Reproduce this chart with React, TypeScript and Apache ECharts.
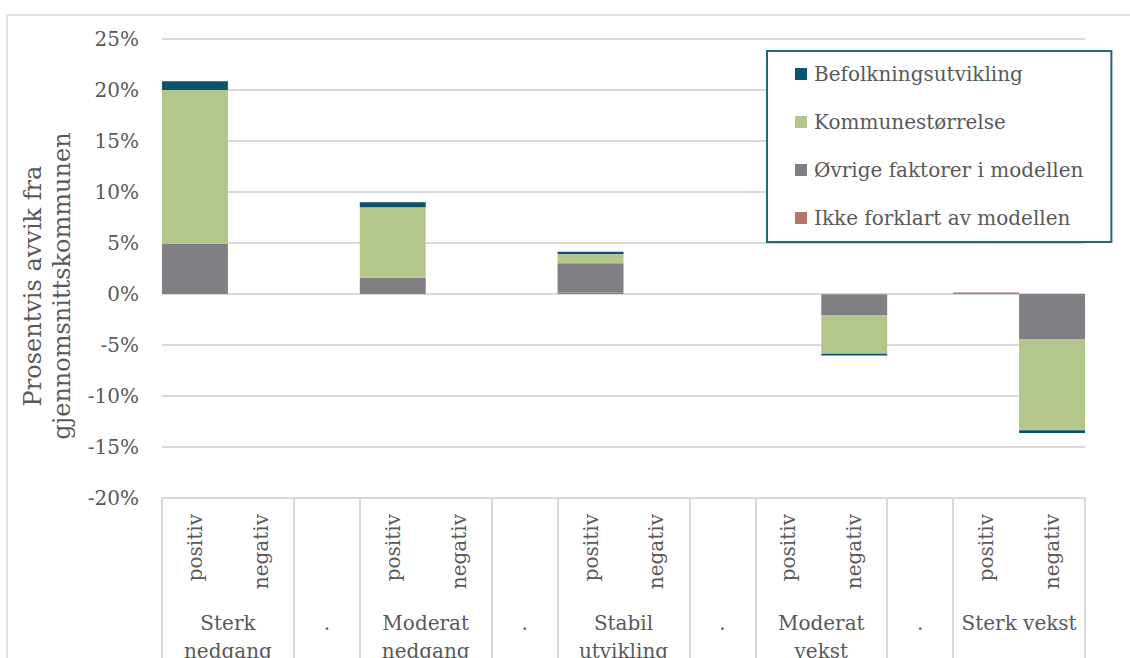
import React, { useEffect, useRef } from "react";
import * as echarts from "echarts";

// Sub-categories (one slot each)
const subLabels = [
  "positiv", "negativ", "",
  "positiv", "negativ", "",
  "positiv", "negativ", "",
  "positiv", "negativ", "",
  "positiv", "negativ",
];
// Group labels and their widths in slots
const groupLabels = ["Sterk\nnedgang", ".", "Moderat\nnedgang", ".", "Stabil\nutvikling", ".", "Moderat\nvekst", ".", "Sterk vekst"];
const groupSpans = [2, 1, 2, 1, 2, 1, 2, 1, 2];

// Series values (percent), stacked bottom-up in this order
const ikkeForklart = [0, null, null, 0, null, null, 0.12, null, null, null, -0.05, null, 0.15, null];
const ovrige = [4.9, null, null, 1.6, null, null, 2.9, null, null, null, -2.0, null, null, -4.4];
const kommune = [15.1, null, null, 6.9, null, null, 0.9, null, null, null, -3.8, null, null, -8.95];
const befolkning = [0.85, null, null, 0.5, null, null, 0.23, null, null, null, -0.17, null, null, -0.27];

const yTicks = { min: -20, max: 25, interval: 5 };

const FONT = "DejaVu Serif";
const TXT = "#595959";
const GRID = "#d9d9d9";

export default function App() {
  const ref = useRef<HTMLDivElement>(null);
  useEffect(() => {
    if (!ref.current) return;
    const chart = echarts.init(ref.current, undefined, { renderer: "svg" });

    // build half-slot axis for group labels and separators
    const total = groupSpans.reduce((a, b) => a + b, 0);
    const halfData: string[] = new Array(total * 2 + 1).fill("");
    const sepIdx: number[] = [0];
    let start = 0;
    groupSpans.forEach((span, k) => {
      const end = start + span;
      halfData[start + end] = groupLabels[k];
      sepIdx.push(end * 2);
      start = end;
    });

    const mk = (name: string, data: (number | null)[], color: string) => ({
      name,
      type: "bar",
      stack: "total",
      data,
      barCategoryGap: "0%",
      itemStyle: { color },
      emphasis: { disabled: true },
    });

    chart.setOption({
      animation: false,
      grid: {
        left: 162,
        width: 923,
        top: 39,
        height: 459,
        containLabel: false,
        outerBoundsMode: "none",
      },
      graphic: [
        {
          type: "rect",
          silent: true,
          z: -10,
          shape: { x: 7, y: 15, width: 1200, height: 800 },
          style: { fill: "none", stroke: GRID, lineWidth: 1.5 },
        },
        {
          type: "text",
          x: 47,
          y: 286,
          rotation: Math.PI / 2,
          style: {
            text: "Prosentvis avvik fra\ngjennomsnittskommunen",
            fontFamily: FONT,
            fontSize: 24,
            lineHeight: 29,
            fill: TXT,
            align: "center",
            verticalAlign: "middle",
          },
        },
      ],
      legend: {
        orient: "vertical",
        left: 767,
        top: 51,
        data: ["Befolkningsutvikling", "Kommunestørrelse", "Øvrige faktorer i modellen", "Ikke forklart av modellen"],
        backgroundColor: "#ffffff",
        borderColor: "#22667a",
        borderWidth: 2,
        padding: [13, 28, 14, 28],
        itemGap: 28,
        itemWidth: 12,
        itemHeight: 12,
        icon: "rect",
        textStyle: { fontFamily: FONT, fontSize: 20, lineHeight: 20, color: TXT, padding: [0, 0, 0, 2] },
        selectedMode: false,
      },
      xAxis: [
        {
          type: "category",
          data: subLabels,
          position: "bottom",
          axisLine: { onZero: false, show: true, lineStyle: { color: GRID, width: 2 } },
          axisTick: { show: false },
          axisLabel: {
            interval: 0,
            rotate: 90,
            margin: 16,
            fontFamily: FONT,
            fontSize: 20,
            color: TXT,
          },
        },
        {
          type: "category",
          data: halfData,
          boundaryGap: false,
          position: "bottom",
          axisLine: { onZero: false, show: false },
          axisTick: {
            show: true,
            length: 175,
            interval: (idx: number) => sepIdx.includes(idx),
            lineStyle: { color: GRID, width: 2 },
          },
          axisLabel: {
            interval: 0,
            margin: 111,
            fontFamily: FONT,
            fontSize: 20,
            lineHeight: 28,
            color: TXT,
            align: "center",
          },
        },
      ],
      yAxis: {
        type: "value",
        min: yTicks.min,
        max: yTicks.max,
        interval: yTicks.interval,
        axisLine: { show: false },
        axisTick: { show: false },
        splitLine: { lineStyle: { color: GRID, width: 2 } },
        axisLabel: {
          formatter: (v: number) => `${v}%`,
          margin: 23,
          fontFamily: FONT,
          fontSize: 20,
          color: TXT,
        },
      },
      series: [
        mk("Ikke forklart av modellen", ikkeForklart, "#b6756b"),
        mk("Øvrige faktorer i modellen", ovrige, "#807f83"),
        mk("Kommunestørrelse", kommune, "#b3c78a"),
        mk("Befolkningsutvikling", befolkning, "#0a556e"),
      ],
    });
    return () => chart.dispose();
  }, []);
  return (
    <div
      ref={ref}
      style={{ position: "fixed", left: 0, top: 0, width: 1130, height: 658, background: "#fff" }}
    />
  );
}
